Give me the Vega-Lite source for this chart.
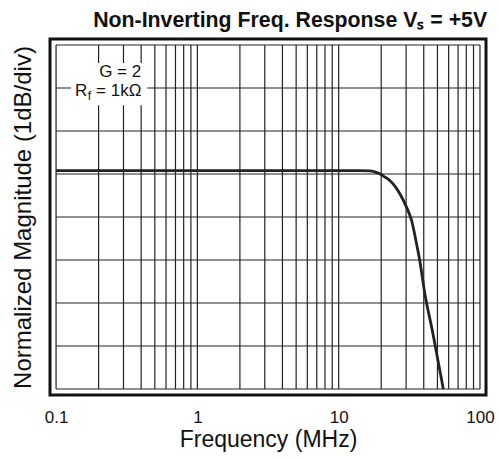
{
  "$schema": "https://vega.github.io/schema/vega-lite/v6.json",
  "width": 436,
  "height": 356,
  "autosize": "none",
  "padding": {"left": 50, "top": 39, "right": 14, "bottom": 64},
  "background": "white",
  "title": {"text": "Non-Inverting Freq. Response Vₛ = +5V", "font": "Liberation Sans", "fontSize": 21.3, "fontWeight": "bold", "color": "#111", "anchor": "end", "dx": -7, "offset": 8},
  "config": {"view": {"stroke": "#111", "strokeWidth": 3}, "font": "Liberation Sans"},
  "datasets": {
    "vgrid": [{"f":0.1},{"f":0.2},{"f":0.3},{"f":0.4},{"f":0.5},{"f":0.6},{"f":0.7},{"f":0.8},{"f":0.9},{"f":1},{"f":2},{"f":3},{"f":4},{"f":5},{"f":6},{"f":7},{"f":8},{"f":9},{"f":10},{"f":20},{"f":30},{"f":40},{"f":50},{"f":60},{"f":70},{"f":80},{"f":90},{"f":100}],
    "hgrid": [{"db":-5},{"db":-4},{"db":-3},{"db":-2},{"db":-1},{"db":0},{"db":1},{"db":2},{"db":3}],
    "box": [{"f":0.1277,"f2":0.4419,"db":2.58,"db2":1.60}],
    "curve": [
      {"f":0.1,"db":0.08},{"f":1,"db":0.08},{"f":10,"db":0.08},{"f":14,"db":0.08},{"f":16.6,"db":0.075},{"f":18,"db":0.05},{"f":19.5,"db":0.007},{"f":21,"db":-0.06},{"f":23,"db":-0.15},{"f":25,"db":-0.28},{"f":27.1,"db":-0.46},{"f":30.2,"db":-0.77},{"f":32.8,"db":-1.08},{"f":35.6,"db":-1.63},{"f":37.5,"db":-2.02},{"f":40.7,"db":-2.78},{"f":46.5,"db":-3.72},{"f":50.5,"db":-4.35},{"f":55,"db":-5}
    ],
    "notes": [{"t":"G = 2","f":0.2018,"db":2.246},{"t":"R","f":0.1364,"db":1.81},{"t":"= 1kΩ","f":0.1921,"db":1.81}],
    "sub": [{"t":"f","f":0.1673,"db":1.717}]
  },
  "layer": [
    {"data": {"name": "vgrid"}, "mark": {"type": "rule", "color": "#222", "strokeWidth": 1.2},
     "encoding": {
       "x": {"field": "f", "type": "quantitative", "title": "Frequency (MHz)",
         "scale": {"type": "log", "domain": [0.0906, 110.3], "nice": false, "zero": false},
         "axis": {"values": [0.1, 1, 10, 100], "format": "~g", "domain": false, "ticks": false, "grid": false, "labelFontSize": 17, "labelColor": "#111", "labelPadding": 14, "labelFlush": false, "labelOverlap": false, "titleFontSize": 23, "titleFontWeight": "normal", "titleColor": "#111", "titlePadding": 3}},
       "y": {"datum": -5, "type": "quantitative", "title": "Normalized Magnitude (1dB/div)",
         "scale": {"domain": [-5.14, 3.14], "nice": false, "zero": false},
         "axis": {"domain": false, "ticks": false, "labels": false, "grid": false, "titleFontSize": 24, "titleFontWeight": "normal", "titleColor": "#111", "titlePadding": 15}},
       "y2": {"datum": 3}}},
    {"data": {"name": "hgrid"}, "mark": {"type": "rule", "color": "#222", "strokeWidth": 1.2},
     "encoding": {
       "x": {"datum": 0.1, "type": "quantitative", "title": "Frequency (MHz)"}, "x2": {"datum": 100},
       "y": {"field": "db", "type": "quantitative", "title": "Normalized Magnitude (1dB/div)"}}},
    {"data": {"name": "box"}, "mark": {"type": "rect", "fill": "white"},
     "encoding": {
       "x": {"field": "f", "type": "quantitative", "title": "Frequency (MHz)"}, "x2": {"field": "f2"},
       "y": {"field": "db", "type": "quantitative", "title": "Normalized Magnitude (1dB/div)"}, "y2": {"field": "db2"}}},
    {"data": {"name": "curve"}, "mark": {"type": "line", "color": "#222", "strokeWidth": 2.8, "interpolate": "monotone"},
     "encoding": {
       "x": {"field": "f", "type": "quantitative", "title": "Frequency (MHz)"},
       "y": {"field": "db", "type": "quantitative", "title": "Normalized Magnitude (1dB/div)"}}},
    {"data": {"name": "notes"}, "mark": {"type": "text", "align": "left", "baseline": "alphabetic", "fontSize": 17, "color": "#111"},
     "encoding": {
       "x": {"field": "f", "type": "quantitative", "title": "Frequency (MHz)"},
       "y": {"field": "db", "type": "quantitative", "title": "Normalized Magnitude (1dB/div)"},
       "text": {"field": "t"}}},
    {"data": {"name": "sub"}, "mark": {"type": "text", "align": "left", "baseline": "alphabetic", "fontSize": 12, "color": "#111"},
     "encoding": {
       "x": {"field": "f", "type": "quantitative", "title": "Frequency (MHz)"},
       "y": {"field": "db", "type": "quantitative", "title": "Normalized Magnitude (1dB/div)"},
       "text": {"field": "t"}}}
  ]
}
